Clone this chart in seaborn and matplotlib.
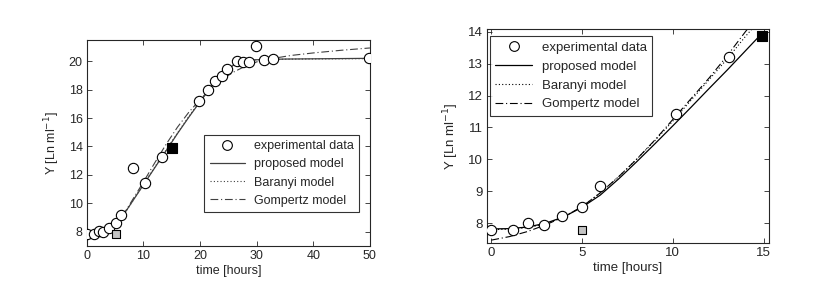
import numpy as np
import pandas as pd
import matplotlib
matplotlib.use("Agg")
import matplotlib.pyplot as plt
import seaborn as sns
from matplotlib.lines import Line2D

sns.set_style("ticks")
plt.rcParams['font.family'] = ['Liberation Sans', 'DejaVu Sans']
plt.rcParams['xtick.direction'] = 'in'
plt.rcParams['ytick.direction'] = 'in'
plt.rcParams['xtick.top'] = True
plt.rcParams['ytick.right'] = True

#/// left panel data (0-50 h) ///#
exp_t_left = [0, 1.2, 2.2, 2.9, 4.0, 5.1, 6.1, 8.2, 10.2, 13.2, 19.9, 21.4, 22.7, 23.8,
              24.7, 26.6, 27.5, 28.7, 29.8, 31.3, 32.8, 49.8]
exp_y_left = [7.81, 7.81, 8.07, 7.95, 8.28, 8.6, 9.2, 12.47, 11.46, 13.25, 17.18, 17.95,
              18.64, 18.99, 19.44, 20.02, 19.95, 19.93, 21.1, 20.05, 20.16, 20.2]

model_t_left = [0, 2, 4, 5, 6, 7, 8, 9, 10, 12, 14, 16, 18, 20, 22, 24, 25, 26, 27, 28, 30, 35, 50]
proposed_left = [7.8, 7.85, 8.15, 8.45, 8.95, 9.5, 10.1, 10.7, 11.3, 12.5, 13.7, 14.9, 16.05,
                 17.15, 18.2, 19.1, 19.45, 19.75, 19.95, 20.05, 20.1, 20.15, 20.2]
baranyi_left = [7.8, 7.84, 8.12, 8.42, 8.92, 9.48, 10.1, 10.72, 11.33, 12.55, 13.75, 14.95, 16.1,
                17.2, 18.25, 19.12, 19.47, 19.76, 19.95, 20.04, 20.1, 20.14, 20.18]

gomp_t_left = [0, 2, 4, 5, 6, 7, 8, 9, 10, 12, 14, 16, 18, 20, 22, 24, 26, 28, 30, 33, 36, 40, 45, 50]
gompertz_left = [7.6, 7.72, 8.1, 8.45, 8.95, 9.55, 10.2, 10.85, 11.5, 12.85, 14.15, 15.35, 16.4,
                 17.3, 18.1, 18.75, 19.25, 19.65, 19.95, 20.2, 20.4, 20.58, 20.77, 20.93]

#/// right panel data (0-15 h) ///#
exp_t_right = [0, 1.2, 2.0, 2.9, 3.9, 5.0, 6.0, 10.2, 13.1]
exp_y_right = [7.8, 7.8, 8.0, 7.95, 8.22, 8.52, 9.15, 11.42, 13.2]

model_t_right = [0, 1, 2, 3, 4, 5, 6, 7, 8, 9, 10, 11, 12, 13, 14, 15]
proposed_right = [7.82, 7.83, 7.88, 8.0, 8.2, 8.5, 8.88, 9.38, 9.92, 10.48, 11.05, 11.63,
                  12.22, 12.8, 13.4, 14.0]
baranyi_right = [7.8, 7.81, 7.86, 7.98, 8.2, 8.52, 8.95, 9.45, 10.0, 10.58, 11.2, 11.85,
                 12.5, 13.15, 13.85, 14.5]
gompertz_right = [7.47, 7.58, 7.74, 7.95, 8.2, 8.52, 8.95, 9.45, 10.0, 10.6, 11.25, 11.9,
                  12.55, 13.25, 14.0, 14.7]

# marked reference points: black square and gray square
black_sq_left = (15.0, 13.9)
gray_sq_left = (5.1, 7.83)
black_sq_right = (14.9, 13.85)
gray_sq_right = (5.0, 7.8)

labels = ['experimental data', 'proposed model', 'Baranyi model', 'Gompertz model']
dashdot = (0, (7, 2.5, 1, 2.5))
dotted = (0, (1, 2))

fig = plt.figure(figsize=(8.35, 2.91), dpi=100)
ax1 = fig.add_axes([0.104, 0.155, 0.339, 0.708])
ax2 = fig.add_axes([0.583, 0.165, 0.338, 0.735])


def draw_panel(ax, t_exp, y_exp, t_mod, prop, bar, t_g, gomp, black_sq, gray_sq, lc, fs):
    sns.lineplot(x=t_mod, y=bar, ax=ax, color=lc, lw=0.8, linestyle=dotted, sort=False, estimator=None)
    sns.lineplot(x=t_g, y=gomp, ax=ax, color=lc, lw=0.8, linestyle=dashdot, sort=False, estimator=None)
    sns.lineplot(x=t_mod, y=prop, ax=ax, color=lc, lw=0.9, sort=False, estimator=None)
    sns.scatterplot(x=t_exp, y=y_exp, ax=ax, marker='o', s=55, facecolor='white',
                    edgecolor='black', linewidth=0.8, zorder=3)
    sns.scatterplot(x=[black_sq[0]], y=[black_sq[1]], ax=ax, marker='s', s=50,
                    color='black', edgecolor='black', linewidth=0.8, zorder=4)
    sns.scatterplot(x=[gray_sq[0]], y=[gray_sq[1]], ax=ax, marker='s', s=40,
                    color='#c4c4c4', edgecolor='black', linewidth=0.8, zorder=4)
    ax.set_xlabel("time [hours]", fontsize=fs, labelpad=2)
    ax.set_ylabel("Y [Ln ml$^{-1}$]", fontsize=fs, labelpad=5)
    ax.tick_params(labelsize=fs, length=3.5, width=0.6, pad=3)
    for sp in ax.spines.values():
        sp.set_linewidth(0.8)
    handles = [Line2D([], [], marker='o', ls='none', mfc='white', mec='black', ms=7, mew=0.8),
               Line2D([], [], color=lc, lw=0.9),
               Line2D([], [], color=lc, lw=0.8, ls=dotted),
               Line2D([], [], color=lc, lw=0.8, ls=dashdot)]
    return handles


leg_kw = dict(frameon=True, fancybox=False, edgecolor='black',
              handlelength=2.8, handletextpad=0.72, borderpad=0.42, labelspacing=0.5,
              borderaxespad=0)

h1 = draw_panel(ax1, exp_t_left, exp_y_left, model_t_left, proposed_left, baranyi_left,
                gomp_t_left, gompertz_left, black_sq_left, gray_sq_left, '#404040', 9)
ax1.set_xlim(0, 50)
ax1.set_ylim(7, 21.5)
ax1.set_xticks([0, 10, 20, 30, 40, 50])
ax1.set_yticks([8, 10, 12, 14, 16, 18, 20])
ax1.legend(h1, labels, loc='upper right', bbox_to_anchor=(0.961, 0.539), fontsize=9,
           **leg_kw).get_frame().set_linewidth(0.8)

h2 = draw_panel(ax2, exp_t_right, exp_y_right, model_t_right, proposed_right, baranyi_right,
                model_t_right, gompertz_right, black_sq_right, gray_sq_right, 'black', 9.5)
ax2.set_xlim(-0.25, 15.3)
ax2.set_ylim(7.38, 14.08)
ax2.set_xticks([0, 5, 10, 15])
ax2.set_yticks([8, 9, 10, 11, 12, 13, 14])
ax2.legend(h2, labels, loc='upper left', bbox_to_anchor=(0.011, 0.967), fontsize=9.5,
           **leg_kw).get_frame().set_linewidth(0.8)

plt.savefig("out.png", dpi=100)
